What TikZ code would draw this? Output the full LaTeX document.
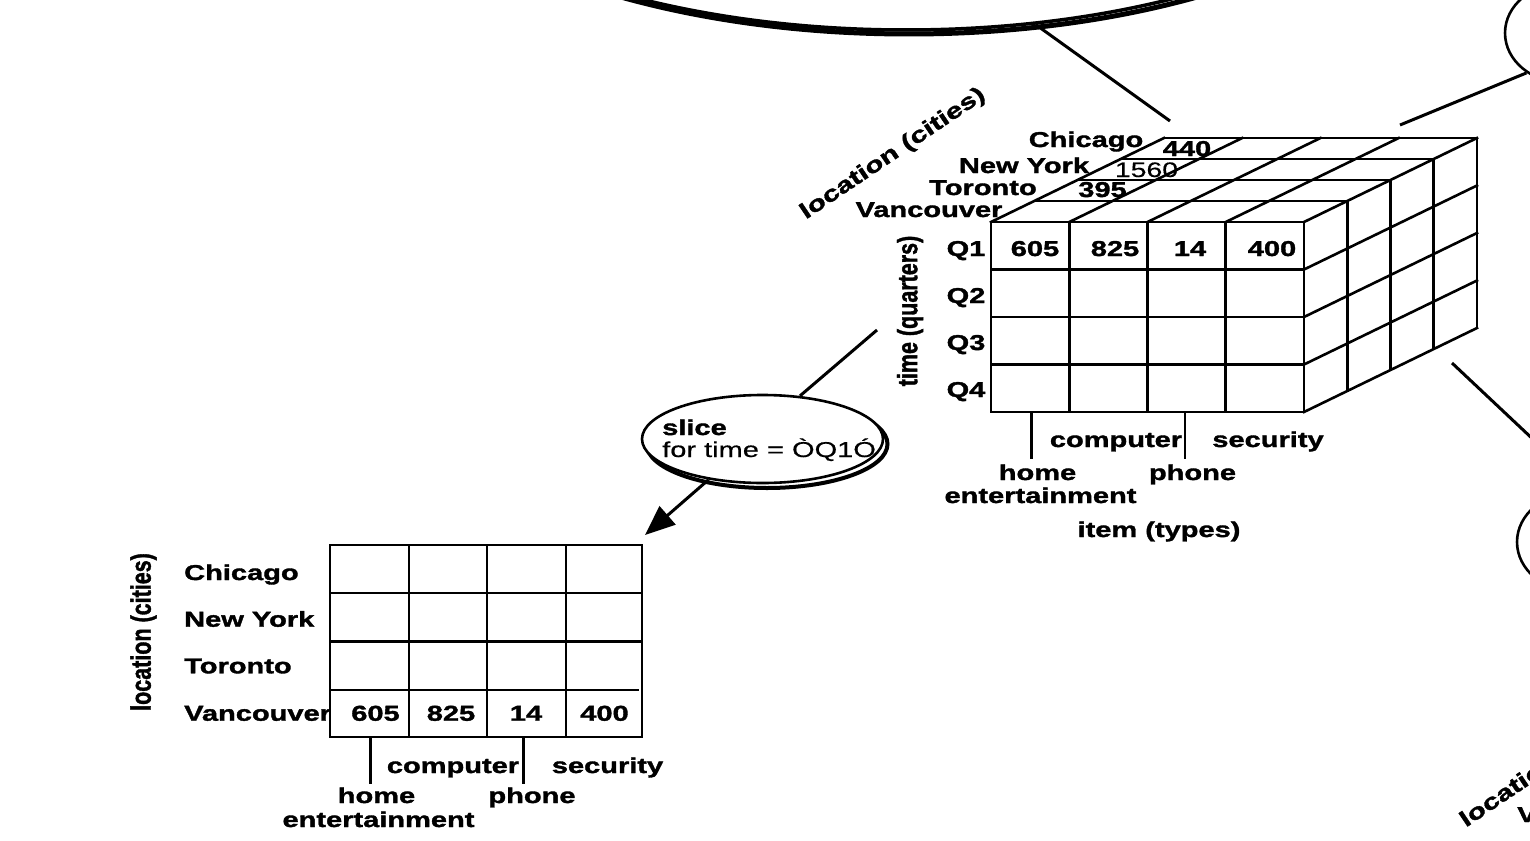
\documentclass[tikz,border=0pt]{standalone}
\usepackage{fontspec}
\usepackage{graphicx}
\setmainfont{Liberation Sans}[BoldFeatures={FakeBold=1.6}]
\newfontfamily\wf{Liberation Sans}[FakeStretch=1.35, FakeBold=0.5, BoldFeatures={FakeBold=1.6}]
\usetikzlibrary{arrows.meta,shapes.geometric}
\newcommand{\vstretch}[1]{\scalebox{1}[1.3]{#1}}
\begin{document}
\begin{tikzpicture}[x=1pt,y=-1pt,
  grid/.style={line width=2.6pt, line cap=rect},
  conn/.style={line width=3pt},
  lab/.style={inner sep=0pt, font=\wf\bfseries\fontsize{21.5}{24}\selectfont, anchor=base},
  labw/.style={lab, anchor=base west},
  labr/.style={inner sep=0pt, font=\wf\fontsize{21.5}{24}\selectfont, anchor=base west},
  vlab/.style={inner sep=0pt, font=\bfseries\fontsize{21.5}{24}\selectfont, rotate=90},
  dlab/.style={inner sep=0pt, font=\wf\bfseries\fontsize{22}{24}\selectfont, rotate=34},
  op/.style={ellipse, draw, line width=2.6pt, fill=white, inner sep=0pt},
  opsh/.style={ellipse, draw, line width=4pt, inner sep=0pt}]

\useasboundingbox (0,0) rectangle (1530,840);
\fill[white] (0,0) rectangle (1530,840);
\clip (0,0) rectangle (1530,840);

% ---- operation ellipses ----
\node[opsh, line width=5pt, minimum width=1120, minimum height=520] (topSh) at (909,-226) {};
\node[op, line width=3.5pt, minimum width=1120, minimum height=520] (topOp) at (906,-230) {};
\node[op, minimum width=120, minimum height=100] (urOp) at (1565,33) {};
\node[op, minimum width=120, minimum height=100] (lrOp) at (1577,542) {};
\node[opsh, minimum width=241, minimum height=88] (sliceSh) at (767,444) {};
\node[op, minimum width=241, minimum height=88] (sliceOp) at (762.5,439) {};

% ---- connector end points ----
\coordinate (cubeTop) at (1170,121);
\coordinate (cubeUR) at (1400,125);
\coordinate (cubeLR) at (1452,363);
\coordinate (cubeL) at (877,330);
\coordinate (sliceTip) at (645,535);

\draw[conn] (topOp.-63) -- (cubeTop);
\draw[conn] (cubeUR) -- (urOp.226.5);
\draw[conn] (cubeLR) -- (lrOp.77);
\draw[conn] (cubeL) -- (sliceOp.49);
\draw[conn, -{Triangle[length=30pt,width=24pt]}] (sliceOp.217) -- (sliceTip);

% ---- cube ----
\draw[grid] (991,222) rectangle (1304,412);
\foreach \j in {1,2,3} \draw[grid] ({991+78.25*\j},222) -- ({991+78.25*\j},412);
\foreach \i in {1,2,3} \draw[grid] (991,{222+47.5*\i}) -- (1304,{222+47.5*\i});
\foreach \k in {1,...,4} \draw[grid] ({991+43.25*\k},{222-21*\k}) -- ({1304+43.25*\k},{222-21*\k}) -- ({1304+43.25*\k},{412-21*\k});
\foreach \j in {0,...,4} \draw[grid] ({991+78.25*\j},222) -- ++(173,-84);
\foreach \i in {1,...,4} \draw[grid] (1304,{222+47.5*\i}) -- ++(173,-84);

\node[lab] (cChi) at (1086,147) {Chicago};
\node[lab] (c440) at (1187,156) {440};
\node[lab] (cNY) at (1024,173) {New York};
\node[inner sep=0pt, anchor=base, font=\wf\fontsize{21}{22}\selectfont] (c1560) at (1146.5,177) {1560};
\node[lab] (cTor) at (983,195) {Toronto};
\node[lab] (c395) at (1102.5,197) {395};
\node[lab] (cVan) at (929,217) {Vancouver};
\node[lab] (q1) at (966,256) {Q1};
\node[lab] (q2) at (966,303) {Q2};
\node[lab] (q3) at (966,350) {Q3};
\node[lab] (q4) at (966,397) {Q4};
\node[lab] (v605) at (1035,256) {605};
\node[lab] (v825) at (1115,256) {825};
\node[lab] (v14) at (1190,256) {14};
\node[lab] (v400) at (1272,256) {400};
\node[vlab] (cTime) at (910,311) {\vstretch{time (quarters)}};
\node[dlab] (cLoc) at (893,154) {location (cities)};

\coordinate (tkA) at (1031.5,412);
\coordinate (tkB) at (1185,412);
\draw[grid] (tkA) -- ++(0,46);
\draw[grid] (tkB) -- ++(0,46);
\node[lab] (cComp) at (1116,447) {computer};
\node[lab] (cSec) at (1268,447) {security};
\node[lab] (cHome) at (1037.5,480) {home};
\node[lab] (cPhone) at (1192.5,480) {phone};
\node[lab] (cEnt) at (1040.5,503) {entertainment};
\node[lab] (cItem) at (1159,537) {item (types)};

% ---- slice text ----
\node[labw] (sl1) at (662,435) {slice};
\node[labr] (sl2) at (662,457) {for time = ÒQ1Ó};

% ---- slice table ----
\draw[grid] (330,545) rectangle (642,737);
\foreach \x in {409,487,566} \draw[grid] (\x,545) -- (\x,737);
\draw[grid] (330,593) -- (642,593);
\draw[grid] (330,641.5) -- (642,641.5);
\draw[grid] (330,690) -- (638,690);

\node[labw] (sChi) at (184,580) {Chicago};
\node[labw] (sNY) at (184,626.7) {New York};
\node[labw] (sTor) at (184,673.3) {Toronto};
\node[labw] (sVan) at (184,720.7) {Vancouver};
\node[lab] (s605) at (375.5,720.7) {605};
\node[lab] (s825) at (451,720.7) {825};
\node[lab] (s14) at (526,720.7) {14};
\node[lab] (s400) at (604.5,720.7) {400};
\node[vlab] (sLoc) at (143.5,632) {\vstretch{location (cities)}};

\coordinate (stA) at (370.5,737);
\coordinate (stB) at (523.5,737);
\draw[grid] (stA) -- ++(0,46);
\draw[grid] (stB) -- ++(0,46);
\node[lab] (sComp) at (453,773) {computer};
\node[lab] (sSec) at (607.5,773) {security};
\node[lab] (sHome) at (376.5,803) {home};
\node[lab] (sPhone) at (532,803) {phone};
\node[lab] (sEnt) at (378.5,827) {entertainment};

% ---- partial labels at lower right ----
\node[dlab] (dLoc) at (1553,762) {location (cities)};
\node[labw] (dVan) at (1517,822) {Vancouver};
\end{tikzpicture}
\end{document}
